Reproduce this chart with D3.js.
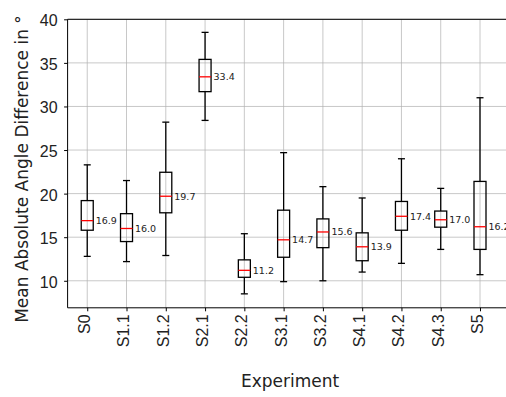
<!DOCTYPE html>
<html lang="en">
  <head>
    <meta charset="utf-8" />
    <title>Mean Absolute Angle Difference</title>
    <script src="https://cdnjs.cloudflare.com/ajax/libs/d3/7.8.5/d3.min.js"></script>
    <style>
      body {
        margin: 0;
        background: #fff;
        font-family: "DejaVu Sans", sans-serif;
      }
      .grid line {
        stroke: #b0b0b0;
        stroke-opacity: 0.7;
        stroke-width: 1;
      }
      .box {
        fill: none;
        stroke: #000;
        stroke-width: 1.3;
      }
      .median {
        stroke: #ff0000;
        stroke-width: 1.3;
      }
      .axis text {
        font-size: 16px;
        fill: #222;
      }
    </style>
  </head>
  <body>
    <div id="chart"></div>
    <script>
      // per-experiment box stats
      const experiments = ["S0", "S1.1", "S1.2", "S2.1", "S2.2", "S3.1", "S3.2", "S4.1", "S4.2", "S4.3", "S5"];
      const whiskerLow = [12.8, 12.2, 12.9, 28.4, 8.5, 9.9, 10.0, 11.0, 12.0, 13.6, 10.7];
      const q1 = [15.8, 14.5, 17.8, 31.7, 10.4, 12.7, 13.8, 12.3, 15.8, 16.15, 13.6];
      const medians = [16.9, 16.0, 19.7, 33.4, 11.2, 14.7, 15.6, 13.9, 17.4, 17.0, 16.2];
      const q3 = [19.2, 17.7, 22.45, 35.4, 12.4, 18.1, 17.1, 15.5, 19.1, 18.0, 21.4];
      const whiskerHigh = [23.3, 21.5, 28.2, 38.5, 15.4, 24.7, 20.8, 19.5, 24.0, 20.6, 31.0];
      const yTicks = [10, 15, 20, 25, 30, 35, 40];

      const width = 506, height = 397;
      const m = { left: 67.6, top: 19.3, bottom: 307.8, right: 512.6 };

      const svg = d3.select("#chart").append("svg")
        .attr("width", width)
        .attr("height", height);

      const x = d3.scaleLinear().domain([0.5, 11.83]).range([m.left, m.right]);
      const y = d3.scaleLinear().domain([6.9, 40]).range([m.bottom, m.top]);

      const data = experiments.map((name, i) => ({
        name, pos: i + 1,
        lo: whiskerLow[i], q1: q1[i], med: medians[i], q3: q3[i], hi: whiskerHigh[i]
      }));

      // grid
      const grid = svg.append("g").attr("class", "grid");
      grid.selectAll(".gy").data(yTicks).join("line")
        .attr("x1", m.left).attr("x2", m.right)
        .attr("y1", d => y(d)).attr("y2", d => y(d));
      grid.selectAll(".gx").data(data).join("line")
        .attr("x1", d => x(d.pos)).attr("x2", d => x(d.pos))
        .attr("y1", m.top).attr("y2", m.bottom);

      // boxes
      const boxW = 12, capW = 7;
      const g = svg.append("g").selectAll("g").data(data).join("g");
      g.append("line").attr("class", "box")
        .attr("x1", d => x(d.pos)).attr("x2", d => x(d.pos))
        .attr("y1", d => y(d.hi)).attr("y2", d => y(d.q3));
      g.append("line").attr("class", "box")
        .attr("x1", d => x(d.pos)).attr("x2", d => x(d.pos))
        .attr("y1", d => y(d.q1)).attr("y2", d => y(d.lo));
      g.append("line").attr("class", "box")
        .attr("x1", d => x(d.pos) - capW / 2).attr("x2", d => x(d.pos) + capW / 2)
        .attr("y1", d => y(d.hi)).attr("y2", d => y(d.hi));
      g.append("line").attr("class", "box")
        .attr("x1", d => x(d.pos) - capW / 2).attr("x2", d => x(d.pos) + capW / 2)
        .attr("y1", d => y(d.lo)).attr("y2", d => y(d.lo));
      g.append("rect").attr("class", "box")
        .attr("x", d => x(d.pos) - boxW / 2).attr("width", boxW)
        .attr("y", d => y(d.q3)).attr("height", d => y(d.q1) - y(d.q3));
      g.append("line").attr("class", "median")
        .attr("x1", d => x(d.pos) - boxW / 2).attr("x2", d => x(d.pos) + boxW / 2)
        .attr("y1", d => y(d.med)).attr("y2", d => y(d.med));
      g.append("text")
        .attr("x", d => x(d.pos) + boxW / 2 + 2.5)
        .attr("y", d => y(d.med))
        .attr("dy", "0.35em")
        .attr("font-size", 9.5)
        .attr("fill", "#222")
        .text(d => d.med.toFixed(1));

      // axes
      const yAxis = svg.append("g").attr("class", "axis")
        .attr("transform", `translate(${m.left},0)`)
        .call(d3.axisLeft(y).tickValues(yTicks).tickSize(3.5).tickPadding(6.5));
      yAxis.select(".domain").remove();
      yAxis.selectAll("text").attr("dy", "0.4em");

      const xAxis = svg.append("g").attr("class", "axis")
        .attr("transform", `translate(0,${m.bottom})`)
        .call(d3.axisBottom(x).tickValues(data.map(d => d.pos))
          .tickFormat((d, i) => experiments[i]).tickSize(3.5));
      xAxis.select(".domain").remove();
      xAxis.selectAll("text")
        .attr("transform", "rotate(-90)")
        .attr("text-anchor", "end")
        .attr("x", -6.5).attr("y", 0).attr("dy", "0.15em");

      // spines: left, top, bottom
      const spine = svg.append("g").attr("stroke", "#000").attr("stroke-width", 1);
      spine.append("line").attr("x1", m.left).attr("x2", m.left).attr("y1", m.top).attr("y2", m.bottom);
      spine.append("line").attr("x1", m.left).attr("x2", m.right).attr("y1", m.top).attr("y2", m.top);
      spine.append("line").attr("x1", m.left).attr("x2", m.right).attr("y1", m.bottom).attr("y2", m.bottom);

      svg.append("text")
        .attr("x", (m.left + m.right) / 2).attr("y", 387)
        .attr("text-anchor", "middle").attr("font-size", 17).attr("fill", "#222")
        .text("Experiment");

      svg.append("text")
        .attr("transform", `translate(28,169) rotate(-90)`)
        .attr("text-anchor", "middle").attr("font-size", 17).attr("fill", "#222")
        .text("Mean Absolute Angle Difference in °");
    </script>
  </body>
</html>
